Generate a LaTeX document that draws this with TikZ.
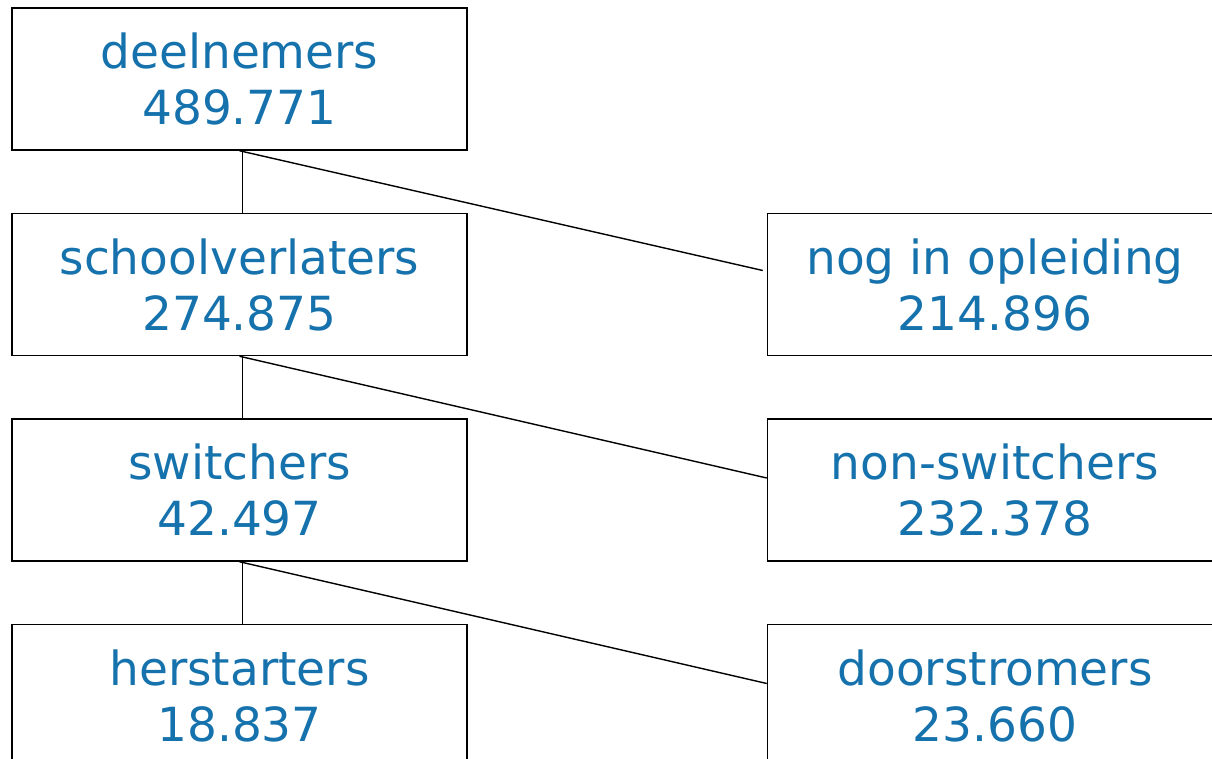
\documentclass[tikz,border=0pt]{standalone}
\usepackage{fontspec}
\setmainfont{DejaVu Sans}
\usepackage{xcolor}
\usetikzlibrary{positioning}
\definecolor{tekstblauw}{RGB}{22,114,172}

\begin{document}
\begin{tikzpicture}[x=1pt, y=1pt, node distance={62pt and 299pt},
  main/.style = {draw, line width=1.5pt, minimum width=455pt, minimum height=142pt, inner sep=0pt,
    align=center, text=tekstblauw, font=\fontsize{47}{56}\selectfont},
  lijn/.style = {line width=1.4pt}]
\useasboundingbox (0,0) rectangle (1212,-759);

\node[main] (D) at (239.5,-79) {deelnemers\\489.771};
\node[main] (S) [below=of D] {schoolverlaters\\274.875};
\node[main] (W) [below=of S] {switchers\\42.497};
\node[main] (H) [below=of W] {herstarters\\18.837};
\node[main] (N) [right=of S] {nog in opleiding\\214.896};
\node[main] (NS) [right=of W] {non-switchers\\232.378};
\node[main] (DS) [right=of H] {doorstromers\\23.660};

\draw[lijn] ([xshift=3pt]D.south) -- ([xshift=3pt]S.north);
\draw[lijn] ([xshift=3pt]S.south) -- ([xshift=3pt]W.north);
\draw[lijn] ([xshift=3pt]W.south) -- ([xshift=3pt]H.north);
\draw[lijn] (D.south) -- ([xshift=-4pt,yshift=14pt]N.west);
\draw[lijn] (S.south) -- ([yshift=12pt]NS.west);
\draw[lijn] (W.south) -- ([yshift=12pt]DS.west);
\end{tikzpicture}
\end{document}
